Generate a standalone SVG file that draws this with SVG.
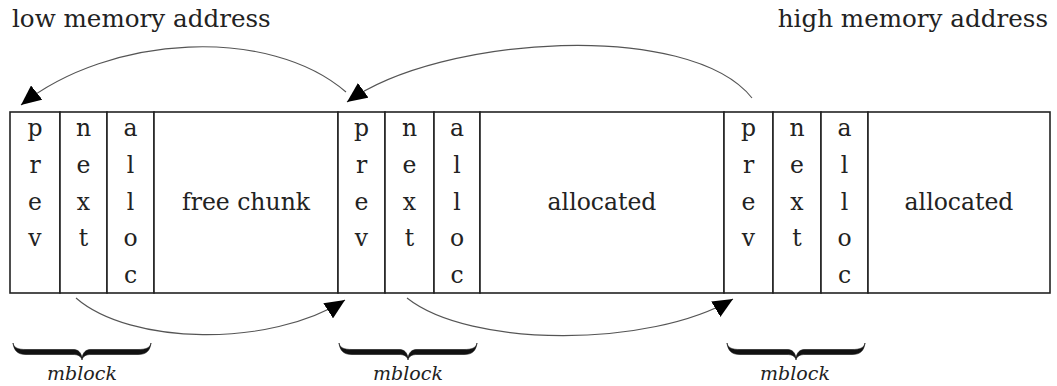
<svg xmlns="http://www.w3.org/2000/svg" xmlns:xlink="http://www.w3.org/1999/xlink" width="1057" height="386" viewBox="0 0 1057 386">
<style>
.cell{fill:#fff;stroke:#222;stroke-width:1.6}
.t{font-family:"DejaVu Serif","Liberation Serif",serif;font-size:23.5px;fill:#222;text-anchor:middle}
.lbl{font-family:"DejaVu Serif","Liberation Serif",serif;font-size:24.6px;fill:#222}
.mb{font-family:"DejaVu Serif","Liberation Serif",serif;font-style:italic;font-size:19px;fill:#222;text-anchor:middle}
.arc{fill:none;stroke:#555;stroke-width:1.1;marker-end:url(#ah)}
.brace{fill:#111;stroke:#111;stroke-width:0.6}
</style>
<defs>
<marker id="ah" markerUnits="userSpaceOnUse" viewBox="0 0 20 18" markerWidth="20" markerHeight="18" refX="20" refY="9" orient="auto">
<path d="M0,0 L20,9 L0,18 z" fill="#000"/>
</marker>
<path id="br" d="M-69,0 C-68,5 -64,6.5 -56,6.5 L-9,6.5 C-4,6.5 -1,9 0,15 C1,9 4,6.5 9,6.5 L56,6.5 C64,6.5 68,5 69,0 C68,8 64,11.5 56,11.5 L9,11.5 C4,11.5 1,13 0,17 C-1,13 -4,11.5 -9,11.5 L-56,11.5 C-64,11.5 -68,8 -69,0 Z"/>
</defs>
<rect width="1057" height="386" fill="#fff"/>
<g id="labels">
<text class="lbl" x="12" y="27">low memory address</text>
<text class="lbl" x="1048" y="27" text-anchor="end">high memory address</text>
</g>
<g id="chunk1">
<rect class="cell" x="10" y="112" width="50" height="181"/>
<rect class="cell" x="60" y="112" width="47" height="181"/>
<rect class="cell" x="107" y="112" width="47" height="181"/>
<rect class="cell" x="154" y="112" width="184" height="181"/>
<text class="t" x="35"><tspan y="136">p</tspan><tspan x="35" y="173">r</tspan><tspan x="35" y="209.5">e</tspan><tspan x="35" y="246">v</tspan></text>
<text class="t" x="83.5"><tspan y="136">n</tspan><tspan x="83.5" y="173">e</tspan><tspan x="83.5" y="209.5">x</tspan><tspan x="83.5" y="246">t</tspan></text>
<text class="t" x="130.5"><tspan y="136">a</tspan><tspan x="130.5" y="173">l</tspan><tspan x="130.5" y="209.5">l</tspan><tspan x="130.5" y="246">o</tspan><tspan x="130.5" y="282.5">c</tspan></text>
<text class="t" x="246" y="210">free chunk</text>
</g>
<g id="chunk2">
<rect class="cell" x="338" y="112" width="47" height="181"/>
<rect class="cell" x="385" y="112" width="49" height="181"/>
<rect class="cell" x="434" y="112" width="46" height="181"/>
<rect class="cell" x="480" y="112" width="244" height="181"/>
<text class="t" x="361.5"><tspan y="136">p</tspan><tspan x="361.5" y="173">r</tspan><tspan x="361.5" y="209.5">e</tspan><tspan x="361.5" y="246">v</tspan></text>
<text class="t" x="409.5"><tspan y="136">n</tspan><tspan x="409.5" y="173">e</tspan><tspan x="409.5" y="209.5">x</tspan><tspan x="409.5" y="246">t</tspan></text>
<text class="t" x="457"><tspan y="136">a</tspan><tspan x="457" y="173">l</tspan><tspan x="457" y="209.5">l</tspan><tspan x="457" y="246">o</tspan><tspan x="457" y="282.5">c</tspan></text>
<text class="t" x="602" y="210">allocated</text>
</g>
<g id="chunk3">
<rect class="cell" x="724" y="112" width="49" height="181"/>
<rect class="cell" x="773" y="112" width="48" height="181"/>
<rect class="cell" x="821" y="112" width="47" height="181"/>
<rect class="cell" x="868" y="112" width="182" height="181"/>
<text class="t" x="748.5"><tspan y="136">p</tspan><tspan x="748.5" y="173">r</tspan><tspan x="748.5" y="209.5">e</tspan><tspan x="748.5" y="246">v</tspan></text>
<text class="t" x="797"><tspan y="136">n</tspan><tspan x="797" y="173">e</tspan><tspan x="797" y="209.5">x</tspan><tspan x="797" y="246">t</tspan></text>
<text class="t" x="844.5"><tspan y="136">a</tspan><tspan x="844.5" y="173">l</tspan><tspan x="844.5" y="209.5">l</tspan><tspan x="844.5" y="246">o</tspan><tspan x="844.5" y="282.5">c</tspan></text>
<text class="t" x="959" y="210">allocated</text>
</g>
<g id="connectors">
<path class="arc" d="M346,92 C270,26 110,34 21,105"/>
<path class="arc" d="M752,98 C690,20 440,35 347,102"/>
<path class="arc" d="M76,298 C130,345 270,348 345,300"/>
<path class="arc" d="M407,298 C470,348 650,348 733,299"/>
</g>
<g id="mblocks">
<use xlink:href="#br" class="brace" x="82" y="343"/>
<use xlink:href="#br" class="brace" x="408" y="343"/>
<use xlink:href="#br" class="brace" x="796" y="343"/>
<text class="mb" x="82" y="380">mblock</text>
<text class="mb" x="408" y="380">mblock</text>
<text class="mb" x="795" y="380">mblock</text>
</g>
</svg>
